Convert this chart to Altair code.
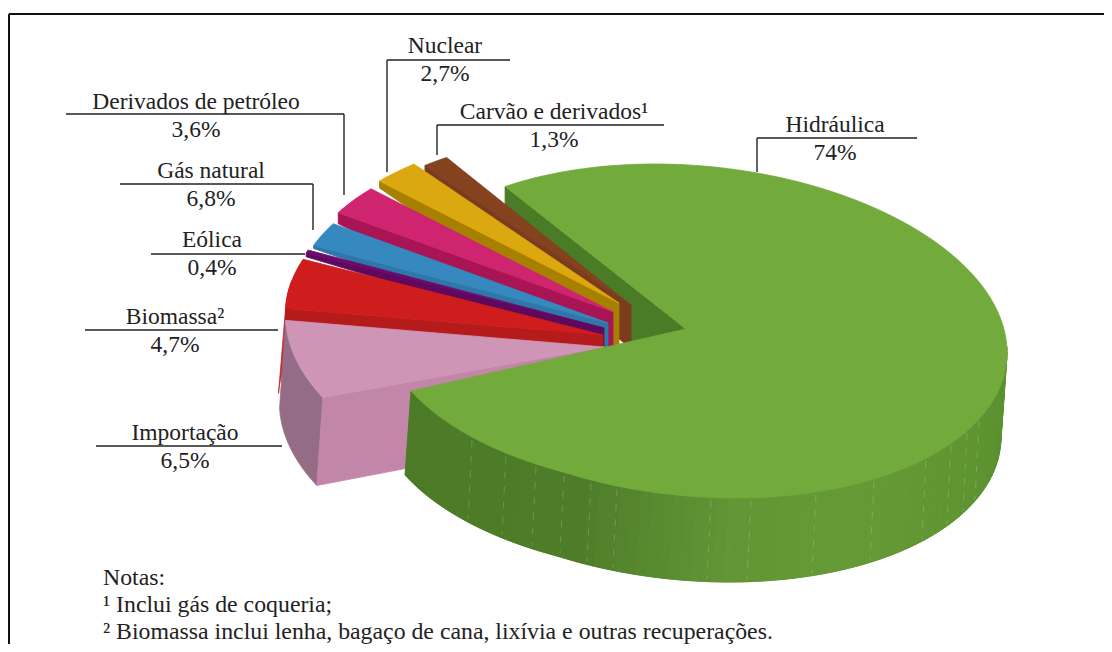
import math
import altair as alt
import pandas as pd

# ---- values -----------------------------------------------------------
names = ["Carvão e derivados¹", "Nuclear", "Derivados de petróleo", "Gás natural",
         "Eólica", "Biomassa²", "Importação", "Hidráulica"]
shares = ["1,3%", "2,7%", "3,6%", "6,8%", "0,4%", "4,7%", "6,5%", "74%"]
# angular extent of each slice as drawn in the picture (degrees)
drawn_deg = [5, 9, 10.5, 8.5, 1, 17, 26, 283]
top_colors = ["#84421f", "#dca80f", "#cf2470", "#3589bf", "#6e0a6e", "#cf1d1d", "#cf95b6", "#72aa3b"]
wall_colors = ["#7a3c1c", "#a88000", "#a81454", "#2f77a8", "#5e085e", "#b51b1b", "#c287a8", "#4a7b27"]
# each slice's hub (exploded) and wall depth at rim / hub
hubs = [(631, 305), (619, 303), (613, 312), (608, 323), (604, 328), (603, 335), (604, 347), (686, 329)]
rim_depth = [7, 7, 11, 3, 4, 14, 88, 18]
hub_depth = [37, 42, 35, 25, 14, 4, 0, 0]
label_x = [554, 445, 196, 211, 212, 175, 185, 835]
label_y = [112, 46, 102, 171, 240, 317, 433, 125]
leader_h = [(437, 664, 125), (387, 510, 60), (66, 344, 114), (120, 313, 184),
            (151, 305, 254), (85, 278, 330), (96, 282, 446), (757, 917, 138)]
leader_v = [(437, 125, 155), (387, 60, 172), (344, 114, 195), (313, 184, 230), (757, 138, 172)]
notes = ["Notas:", "¹ Inclui gás de coqueria;", "² Biomassa inclui lenha, bagaço de cana, lixívia e outras recuperações."]
note_y = [578, 605, 631.5]
seam_x = [473, 507, 537, 565, 592, 618, 712, 752, 817, 875, 927, 952, 968, 980]

# ---- pie geometry: sheared ellipse ------------------------------------
RX, SHEAR, RY = 312, 21.5, 165.6
CENTRE_SHIFT = (9, 2)
WALL = (-6, 84)


def rim(hub, t, r):
    cx, cy = hub[0] + CENTRE_SHIFT[0], hub[1] + CENTRE_SHIFT[1]
    nx, ny = r * math.sin(math.radians(t)), -r * math.cos(math.radians(t))
    return cx + RX * nx, cy + SHEAR * nx + RY * ny


def hydro_rim(hub, t):
    x, y = rim(hub, t, 1.0)
    return x, y + max(0.0, (t - 205) / 41 * 11)


def frange(a, b, step=1.5):
    n = max(2, int(abs(b - a) / step) + 1)
    return [a + (b - a) * i / (n - 1) for i in range(n)]


rows = []
gid = [0]


def poly(points, color):
    gid[0] += 1
    pts = list(points) + [points[0]]
    for i, (x, y) in enumerate(pts):
        rows.append({"g": f"{gid[0]:04d}", "i": i, "x": x, "y": y, "c": color})


def mix(c1, c2, f):
    a = [int(c1[i:i + 2], 16) for i in (1, 3, 5)]
    b = [int(c2[i:i + 2], 16) for i in (1, 3, 5)]
    return "#" + "".join(f"{round(p + (q - p) * f):02x}" for p, q in zip(a, b))


# cumulative boundaries running counter-clockwise from the top of the pie
edge = -37.0
edges = []
for d in drawn_deg[:-1]:
    edges.append((edge - d, edge))
    edge -= d
radii = [(1.03, 1.03), (1.025, 1.025), (1.035, 1.035), (1.035, 1.035), (1.04, 1.04),
         (1.047, 1.047), (1.018, 1.05)]


def arc_of(hub, t0, t1, r0, r1):
    ts = frange(t0, t1)
    return [rim(hub, t, r0 + (r1 - r0) * (t - t0) / (t1 - t0)) for t in ts]


# hydro inner cut wall (behind everything)
hh = hubs[7]
h_start = -37.5
h_end = h_start + drawn_deg[7]
p0 = hydro_rim(hh, h_start)
poly([p0, (p0[0], p0[1] + rim_depth[7]), (630, 342), hh], wall_colors[7])

for k, ((t0, t1), (r0, r1)) in enumerate(zip(edges, radii)):
    hub = hubs[k]
    arc = arc_of(hub, t0, t1, r0, r1)
    outer = arc[0]
    if k == 5:  # biomass: rim sliver beyond the next slice
        part = arc[:7]
        back = [(x + WALL[0] - 1, y + 85) for x, y in reversed(part)]
        poly(part + back, "#c8262a")
    if k == 6:  # import: outer rim and front cut wall
        back = [(x + WALL[0], y + rim_depth[k]) for x, y in reversed(arc)]
        poly(arc + back, "#956c85")
        poly([outer, (outer[0] + WALL[0], outer[1] + rim_depth[k]),
              (460, 458), (604, 400), hub], wall_colors[k])
    else:
        poly([outer, (outer[0], outer[1] + rim_depth[k]),
              (hub[0], hub[1] + rim_depth[k] + hub_depth[k]), hub], wall_colors[k])
    poly([hub] + arc, top_colors[k])

# hydro outer wall, in strips whose shade runs from dark (left) to light (front)
shade_stops = [(88, "#5a8f2e"), (110, "#5e9331"), (150, "#659a36"), (172, "#629636"),
               (200, "#4e7d29"), (250, "#4c7a27")]


def shade(t):
    for (a, ca), (b, cb) in zip(shade_stops, shade_stops[1:]):
        if a <= t <= b:
            return mix(ca, cb, (t - a) / (b - a))
    return shade_stops[-1][1]


# a solid base keeps the strip joints from showing the white page through
base_arc = [hydro_rim(hh, t) for t in frange(88.0, h_end)]
poly(base_arc + [(x + WALL[0], y + WALL[1]) for x, y in reversed(base_arc)], "#5a8f2e")

t = 88.0
while t < h_end:
    t2 = min(t + 2.0, h_end)
    a, b = hydro_rim(hh, t), hydro_rim(hh, t2)
    poly([a, b, (b[0] + WALL[0], b[1] + WALL[1]), (a[0] + WALL[0], a[1] + WALL[1])], shade(t))
    t = t2

# hydro top
poly([hh] + [hydro_rim(hh, t) for t in frange(h_start, h_end)], top_colors[7])

df = pd.DataFrame(rows)

X = alt.X("x:Q", scale=alt.Scale(domain=[8, 1104]), axis=None)
Y = alt.Y("y:Q", scale=alt.Scale(domain=[644, 8]), axis=None)

faces = alt.Chart(df).mark_line(strokeWidth=0.8, interpolate="linear", clip=False).encode(
    x=X, y=Y, order="i:Q", detail="g:N",
    fill=alt.Fill("c:N", scale=None), stroke=alt.Stroke("c:N", scale=None),
)

# seams
seam_rows = []
for n, sx in enumerate(seam_x):
    nx = (sx - hh[0] - CENTRE_SHIFT[0]) / RX
    t = 180 - math.degrees(math.asin(max(-1, min(1, nx))))
    a = hydro_rim(hh, t)
    seam_rows.append({"g": n, "i": 0, "x": a[0] - 1, "y": a[1] + 3})
    seam_rows.append({"g": n, "i": 1, "x": a[0] + WALL[0] + 1, "y": a[1] + WALL[1] - 3})
seams = alt.Chart(pd.DataFrame(seam_rows)).mark_line(
    stroke="#ffffff", strokeOpacity=0.18, strokeWidth=1, strokeDash=[7, 8]
).encode(x=X, y=Y, order="i:Q", detail="g:N")

# leaders
seg = []
for a, b, y in leader_h:
    seg.append({"x": a, "x2": b, "y": y, "y2": y})
for x, a, b in leader_v:
    seg.append({"x": x, "x2": x, "y": a, "y2": b})
leaders = alt.Chart(pd.DataFrame(seg)).mark_rule(stroke="#222222", strokeWidth=1.4).encode(
    x=X, y=Y, x2="x2:Q", y2="y2:Q")

# frame
frame_df = pd.DataFrame([
    {"x": 9, "x2": 9, "y": 14, "y2": 644},
    {"x": 9, "x2": 1104, "y": 14, "y2": 14},
])
frame = alt.Chart(frame_df).mark_rule(stroke="#111111", strokeWidth=2).encode(
    x=X, y=Y, x2="x2:Q", y2="y2:Q")

FONT = "Liberation Serif"
lab_rows = []
for n, s, x, y in zip(names, shares, label_x, label_y):
    lab_rows.append({"t": n, "x": x, "y": y})
    lab_rows.append({"t": s, "x": x, "y": y + 28})
labels = alt.Chart(pd.DataFrame(lab_rows)).mark_text(
    font=FONT, fontSize=23.5, color="#222222", align="center", baseline="middle"
).encode(x=X, y=Y, text="t:N")

note_df = pd.DataFrame({"t": notes, "x": [103] * 3, "y": note_y})
note_text = alt.Chart(note_df).mark_text(
    font=FONT, fontSize=23.8, color="#222222", align="left", baseline="middle"
).encode(x=X, y=Y, text="t:N")

chart = alt.layer(frame, faces, seams, leaders, labels, note_text).properties(
    width=1096, height=636, padding=0, autosize=alt.AutoSizeParams(type="none"), background="#ffffff"
).configure_view(stroke=None)

chart.save("out.html", embed_options={"renderer": "svg", "actions": False})
